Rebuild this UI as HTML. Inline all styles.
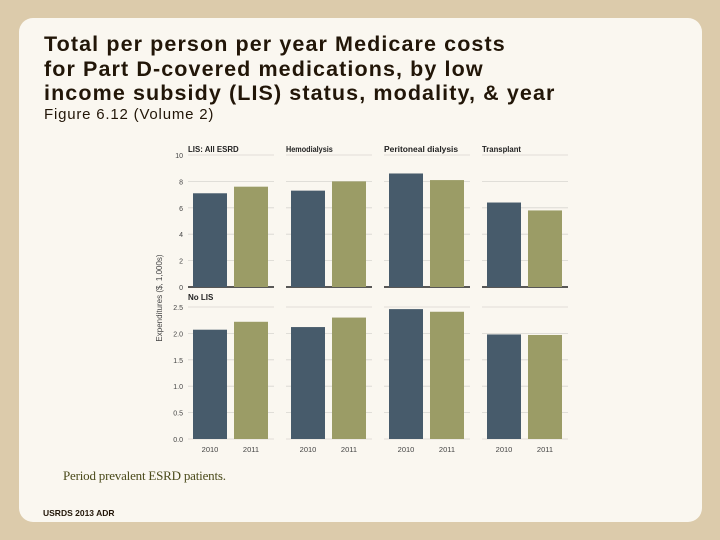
<!DOCTYPE html>
<html><head><meta charset="utf-8"><style>
body{margin:0;width:720px;height:540px;overflow:hidden;background:#dccbab;font-family:"Liberation Sans",sans-serif;position:relative}
.card{position:absolute;left:19px;top:18px;width:683px;height:504px;background:#faf7f0;border-radius:14px}
.t{position:absolute;left:44px;top:32px;font-size:21.5px;line-height:24.5px;color:#221608;margin:0;letter-spacing:1.1px;font-weight:bold}
.fig{position:absolute;left:44px;top:106px;font-size:15px;color:#221608;letter-spacing:0.8px}
.note{position:absolute;left:63px;top:468px;font-family:"Liberation Serif",serif;font-size:13px;color:#4a4a1a;letter-spacing:-0.2px}
.src{position:absolute;left:43px;top:508px;font-size:8.5px;font-weight:bold;color:#221608}
svg{position:absolute;left:0;top:0}
</style></head><body>
<div class="card"></div>
<h1 class="t">Total per person per year Medicare costs<br>for Part D-covered medications, by low<br>income subsidy (LIS) status, modality, &amp; year</h1>
<div class="fig">Figure 6.12 (Volume 2)</div>
<div class="note">Period prevalent ESRD patients.</div>
<div class="src">USRDS 2013 ADR</div>
<svg id="chart" width="720" height="540"></svg>
<script>
const panels=["LIS: All ESRD","Hemodialysis","Peritoneal dialysis","Transplant"];
const years=["2010","2011"];
const lis2010=[7.1,7.3,8.6,6.4];
const lis2011=[7.6,8.0,8.1,5.8];
const nolis2010=[2.07,2.12,2.46,1.98];
const nolis2011=[2.22,2.30,2.41,1.97];
const topTicks=[0,2,4,6,8,10];
const botTicks=["0.0","0.5","1.0","1.5","2.0","2.5"];
const NS="http://www.w3.org/2000/svg";
const svg=document.getElementById('chart');
function mk(t,a,txt){const e=document.createElementNS(NS,t);for(const k in a)e.setAttribute(k,a[k]);if(txt!=null)e.textContent=txt;svg.appendChild(e);return e;}
const yTop=v=>287-v*13.2;
const yBot=v=>439-v*52.8;
const px=i=>188+i*98;
const colors=["#475b6b","#9b9c66"];
topTicks.forEach(v=>{for(let i=0;i<4;i++){const g=mk('line',{x1:px(i),x2:px(i)+86,y1:yTop(v),y2:yTop(v),stroke:v===0?'#222':'#d8d6d0','stroke-width':v===0?1.5:0.8});}
const t=mk('text',{x:183,y:yTop(v)+3,'font-size':7,'text-anchor':'end',fill:'#444'},String(v));});
botTicks.forEach(s=>{const v=parseFloat(s);for(let i=0;i<4;i++){const g=mk('line',{x1:px(i),x2:px(i)+86,y1:yBot(v),y2:yBot(v),stroke:'#d8d6d0','stroke-width':0.8});}
const t=mk('text',{x:183,y:yBot(v)+3,'font-size':7,'text-anchor':'end',fill:'#444'},s);});
panels.forEach((p,i)=>{
 const h=mk('text',{x:px(i),y:152,'font-size':8,'font-weight':'bold',fill:'#222',textLength:p.length*3.9,lengthAdjust:'spacingAndGlyphs'},p);
 
 const tv=[lis2010[i],lis2011[i]],bv=[nolis2010[i],nolis2011[i]];
 for(let j=0;j<2;j++){
  const x=px(i)+5+j*41;
  const b=mk('rect',{x:x,y:yTop(tv[j]),width:34,height:yTop(0)-yTop(tv[j]),fill:colors[j]});
  
  const c=mk('rect',{x:x,y:yBot(bv[j]),width:34,height:yBot(0)-yBot(bv[j]),fill:colors[j]});
  
  const l=mk('text',{x:x+17,y:452,'font-size':7.5,'text-anchor':'middle',fill:'#444'},years[j]);
  
 }
});
const nl=mk('text',{x:188,y:300,'font-size':8,'font-weight':'bold',fill:'#222'},"No LIS");

const yt=mk('text',{x:0,y:0,'font-size':8,fill:'#444','text-anchor':'middle',transform:'translate(162,298) rotate(-90)'},"Expenditures ($, 1,000s)");

</script>
</body></html>
